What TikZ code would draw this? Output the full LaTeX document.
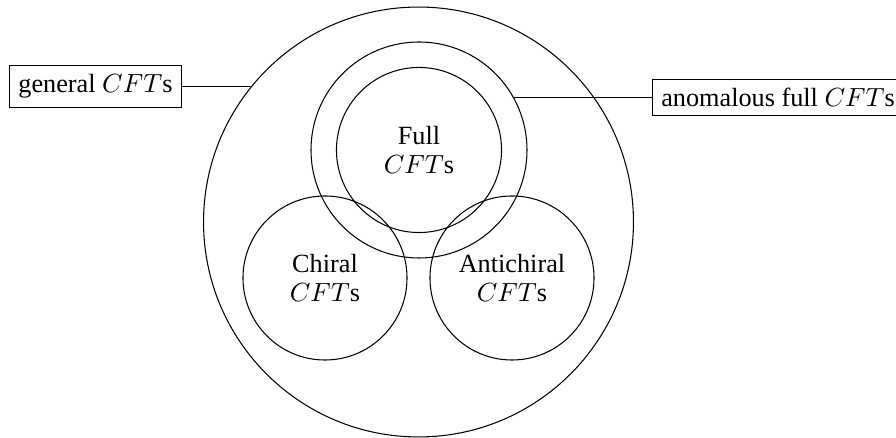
\documentclass[tikz,border=0pt]{standalone}
\usepackage{fontspec}
\setmainfont{Liberation Serif}
\begin{document}
\begin{tikzpicture}[x=0.381pt,y=-0.381pt,
  ring/.style={circle,draw,line width=0.4pt,inner sep=0pt,outer sep=0pt,align=center,font=\fontsize{10}{11}\selectfont},
  labelbox/.style={draw,rectangle,font=\fontsize{10}{11}\selectfont},
  link/.style={draw,line width=0.4pt}]
\useasboundingbox (0,0) rectangle (896,438);
\node[ring,minimum size=163.8pt] (big) at (418.5,222) {};
\node[ring,minimum size=82.3pt] (anom) at (419,150) {};
\node[ring,minimum size=62.9pt] (full) at (419,150) {Full\\$CFT$s};
\node[ring,minimum size=62.5pt] (chiral) at (325,278) {Chiral\\$CFT$s};
\node[ring,minimum size=62.5pt] (anti) at (512,278) {Antichiral\\$CFT$s};
\node[labelbox] (gen) at (95.5,86.5) {general $CFT$s};
\node[labelbox,anchor=west] (anbox) at (652,97.5) {anomalous full $CFT$s};
\draw[link] (gen.east) -- (gen.east -| big.141.3);
\draw[link] (anbox.west) -- (anbox.west -| anom.29.1);
\end{tikzpicture}
\end{document}
